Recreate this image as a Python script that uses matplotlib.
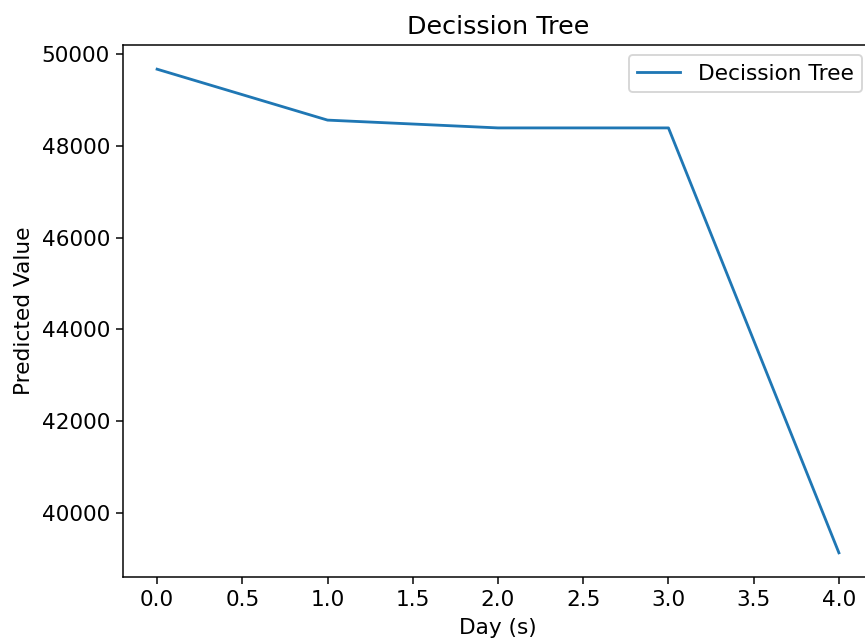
import matplotlib
matplotlib.use("Agg")
import matplotlib.pyplot as plt

days = [0, 1, 2, 3, 4]
predicted = [49670, 48560, 48390, 48390, 39130]

plt.rcParams["font.size"] = 11.5
plt.rcParams["xtick.labelsize"] = 11.5
plt.rcParams["ytick.labelsize"] = 11.5

fig = plt.figure(figsize=(865 / 135, 644 / 135), dpi=135)
# axes run slightly past the right edge, as in the cropped original
ax = fig.add_axes([123 / 865, 67 / 644, 750 / 865, 532 / 644])
ax.plot(days, predicted, label="Decission Tree")
ax.set_title("Decission Tree", fontsize=13.5)
ax.set_xlabel("Day (s)")
ax.set_ylabel("Predicted Value")
ax.legend(loc="upper right", bbox_to_anchor=(862 / 865, 1 - 55 / 644),
          bbox_transform=fig.transFigure, borderaxespad=0, fontsize=11.5)

fig.savefig("out.png", dpi=135)
